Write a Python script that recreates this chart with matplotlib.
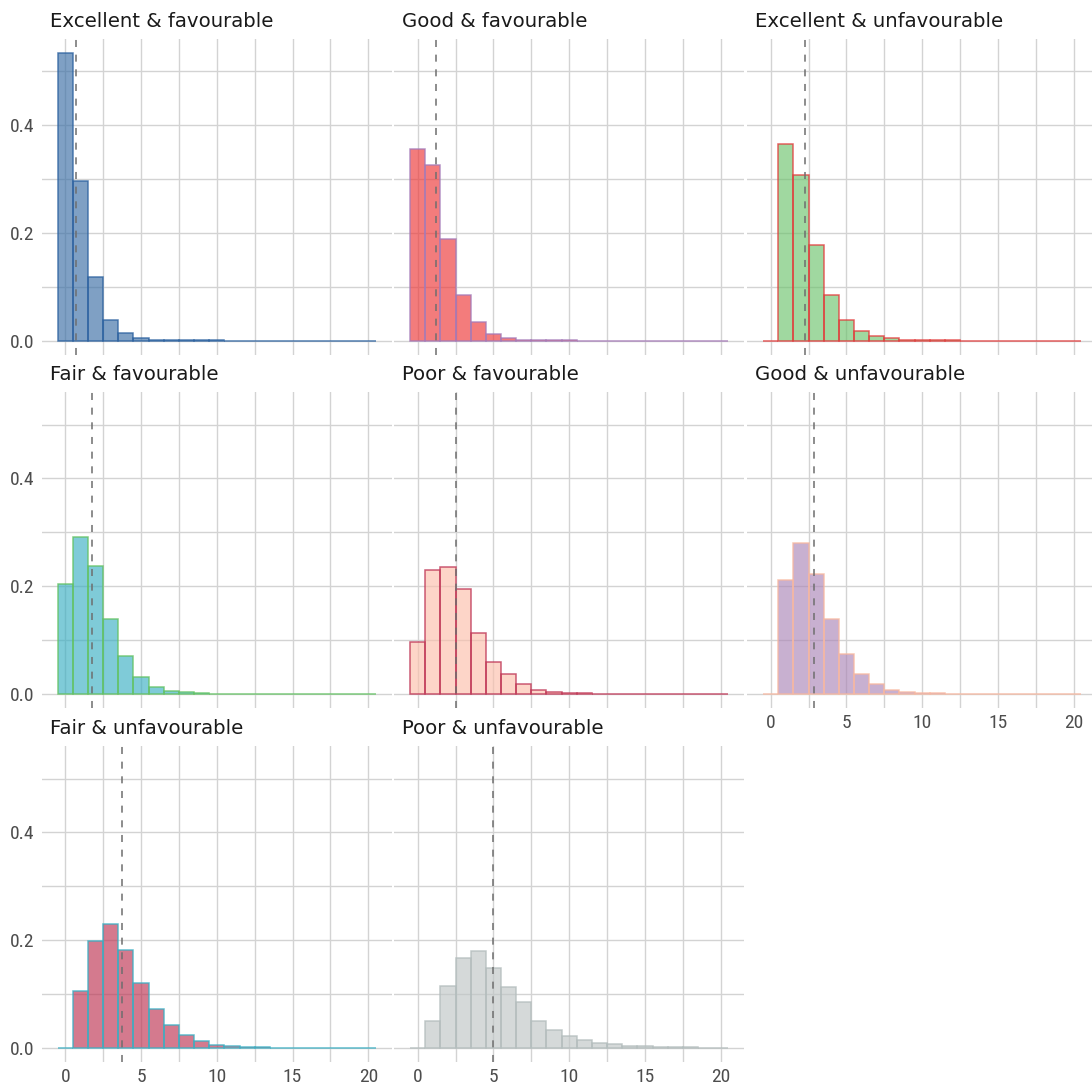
import matplotlib
matplotlib.use("Agg")
import matplotlib.pyplot as plt
import numpy as np

# Relative frequency of counts 0..20 for each prognosis / environment group
counts = list(range(21))

panel_titles = [
    "Excellent & favourable", "Good & favourable", "Excellent & unfavourable",
    "Fair & favourable", "Poor & favourable", "Good & unfavourable",
    "Fair & unfavourable", "Poor & unfavourable",
]

excellent_fav = [0.533, 0.296, 0.118, 0.038, 0.0136, 0.005, 0.002, 0.001, 0.0006, 0.0004,
                 0.0003, 0.0002, 0.0002, 0.0001, 0.0001, 0.0001, 0.0001, 0.0001, 0.0001, 0.0001, 0.0001]
good_fav = [0.356, 0.325, 0.188, 0.085, 0.034, 0.013, 0.005, 0.002, 0.001, 0.0005,
            0.0003, 0.0002, 0.0001, 0.0001, 0.0001, 0.0001, 0.0001, 0.0001, 0.0001, 0.0001, 0.0001]
excellent_unfav = [0.0, 0.365, 0.308, 0.177, 0.084, 0.039, 0.017, 0.0086, 0.004, 0.002,
                   0.001, 0.0005, 0.0003, 0.0002, 0.0001, 0.0001, 0.0001, 0.0001, 0.0001, 0.0001, 0.0001]
fair_fav = [0.204, 0.291, 0.238, 0.140, 0.071, 0.031, 0.0136, 0.006, 0.003, 0.0015,
            0.0008, 0.0004, 0.0002, 0.0001, 0.0001, 0.0001, 0.0001, 0.0001, 0.0001, 0.0001, 0.0001]
poor_fav = [0.096, 0.230, 0.235, 0.194, 0.114, 0.059, 0.038, 0.019, 0.007, 0.003,
            0.0015, 0.001, 0.0008, 0.0005, 0.0003, 0.0002, 0.0001, 0.0001, 0.0001, 0.0001, 0.0001]
good_unfav = [0.0, 0.211, 0.280, 0.222, 0.140, 0.075, 0.037, 0.018, 0.008, 0.004,
              0.002, 0.001, 0.0005, 0.0003, 0.0002, 0.0001, 0.0001, 0.0001, 0.0001, 0.0001, 0.0001]
fair_unfav = [0.0, 0.105, 0.199, 0.231, 0.181, 0.120, 0.072, 0.042, 0.024, 0.013,
              0.006, 0.0037, 0.0025, 0.0012, 0.0008, 0.0003, 0.0003, 0.0002, 0.0002, 0.0001, 0.0001]
poor_unfav = [0.0, 0.050, 0.116, 0.167, 0.180, 0.149, 0.113, 0.085, 0.050, 0.034,
              0.023, 0.015, 0.010, 0.0068, 0.004, 0.0037, 0.0025, 0.0015, 0.001, 0.0008, 0.0005]

group_freqs = [excellent_fav, good_fav, excellent_unfav, fair_fav,
               poor_fav, good_unfav, fair_unfav, poor_unfav]

# Group means (dashed reference lines)
group_means = [0.73, 1.19, 2.24, 1.78, 2.51, 2.84, 3.72, 4.95]

fill_colors = ["#3A6EA5", "#EE3636", "#6DC36D", "#3AAFC3",
               "#FCBFAB", "#AB86B7", "#BD3352", "#BFC6C6"]
edge_colors = ["#2C62A0", "#A57AB8", "#E23C3C", "#62C262",
               "#BF3555", "#F8B8A0", "#3AAFC3", "#B3BDBD"]

x_ticks = [0, 5, 10, 15, 20]
y_ticks = [0.0, 0.2, 0.4]

W, H = 1092, 1086
fig = plt.figure(figsize=(W / 100, H / 100), dpi=100)
fig.patch.set_facecolor("white")

col_left = [41.8, 394.2, 747.2]
row_top = [39.0, 392.4, 746.4]
panel_w, panel_h = 350.0, 316.0

ymax = max(max(f) for f in group_freqs)
ylim = (-0.05 * ymax, 1.05 * ymax)
xlim = (-0.5 - 0.05 * 21, 20.5 + 0.05 * 21)

grid_color = "#D3D3D3"
tick_font = ["Liberation Sans Narrow", "Roboto Condensed", "DejaVu Sans"]

for i, (title, freqs) in enumerate(zip(panel_titles, group_freqs)):
    r, c = divmod(i, 3)
    left = col_left[c] / W
    bottom = 1 - (row_top[r] + panel_h) / H
    ax = fig.add_axes([left, bottom, panel_w / W, panel_h / H])
    ax.set_facecolor("none")
    ax.set_xlim(*xlim)
    ax.set_ylim(*ylim)

    ax.set_xticks(x_ticks)
    ax.set_xticks(np.arange(2.5, 20, 5), minor=True)
    ax.set_yticks(y_ticks)
    ax.set_yticks([0.1, 0.3, 0.5], minor=True)
    ax.grid(True, which="both", color=grid_color, linewidth=1.0, zorder=0)
    ax.set_axisbelow(True)
    for s in ax.spines.values():
        s.set_visible(False)
    ax.tick_params(which="both", length=0)
    ax.tick_params(axis="y", pad=5, labelsize=14, labelcolor="#4D4D4D")
    ax.tick_params(axis="x", pad=4, labelsize=14, labelcolor="#4D4D4D")
    for lab in ax.get_xticklabels() + ax.get_yticklabels():
        lab.set_family(tick_font)
    ax.set_yticklabels([f"{v:.1f}" for v in y_ticks], family=tick_font)
    ax.set_xticklabels([str(v) for v in x_ticks], family=tick_font)

    show_x = (r == 2) or (i == 5)
    if not show_x:
        ax.tick_params(axis="x", labelbottom=False)
    if c != 0:
        ax.tick_params(axis="y", labelleft=False)

    ax.bar(counts, freqs, width=1.0, align="center",
           color=fill_colors[i], alpha=0.65, edgecolor="none", zorder=2)
    ax.bar(counts, freqs, width=1.0, align="center",
           facecolor="none", edgecolor=edge_colors[i], linewidth=1.1,
           alpha=0.8, zorder=3)

    ax.axvline(group_means[i], color="#6E6E6E", linewidth=1.1,
               dashes=(4.6, 5.0), zorder=4)

    ax.text(0.023, 1.0 + 12 / panel_h, title, transform=ax.transAxes,
            ha="left", va="baseline", fontsize=14.2, color="#1A1A1A",
            family="DejaVu Sans")

fig.savefig("out.png", dpi=100, facecolor="white")
